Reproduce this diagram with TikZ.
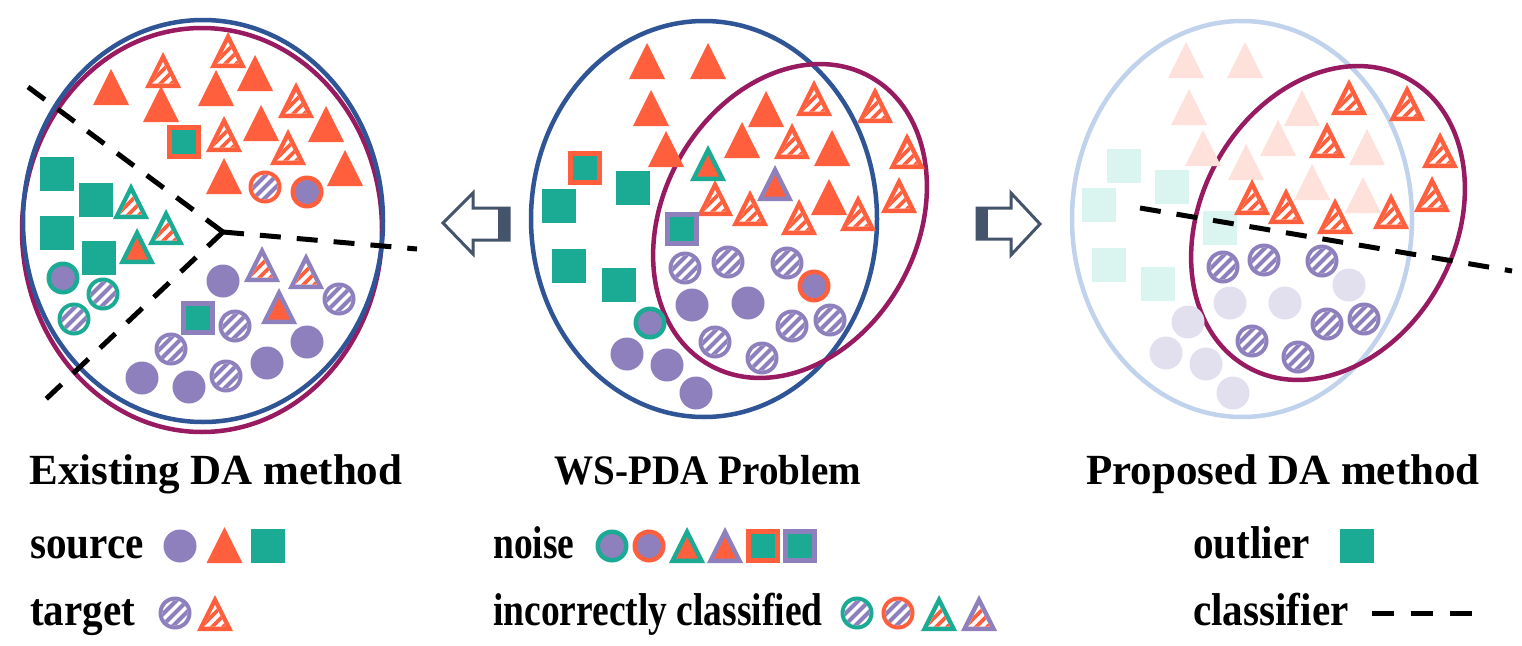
\documentclass[tikz,border=0pt]{standalone}
\usepackage{fontspec}
\setmainfont{Liberation Serif}
\definecolor{cor}{HTML}{FF5F3C}
\definecolor{cpu}{HTML}{8E80BD}
\definecolor{cte}{HTML}{1BAA93}
\definecolor{cbl}{HTML}{2F5597}
\definecolor{cmr}{HTML}{981B62}
\definecolor{car}{HTML}{44546A}
\definecolor{clb}{HTML}{C0D2EC}
\definecolor{for}{HTML}{FFE1DB}
\definecolor{fte}{HTML}{DAF5F0}
\definecolor{fpu}{HTML}{E2E0EF}
% shapes
\newcommand\mkTri[3]{\begin{scope}[shift={(#1,#2)}]\fill[#3] (0,-18)--(18,18)--(-18,18)--cycle;\end{scope}}
\newcommand\mkOTri[4]{\begin{scope}[shift={(#1,#2)}]\fill[#3] (0,-18)--(18,18)--(-18,18)--cycle;\fill[#4] (0,-8)--(10.8,13.5)--(-10.8,13.5)--cycle;\end{scope}}
\newcommand\mkHTri[4]{\begin{scope}[shift={(#1,#2)}]\fill[#3] (0,-18)--(18,18)--(-18,18)--cycle;\fill[white] (0,-8)--(10.8,13.5)--(-10.8,13.5)--cycle;
  \clip (0,-8)--(10.8,13.5)--(-10.8,13.5)--cycle;\foreach \d in {-33,-22,...,33}{\draw[#4,line width=3.6pt] (\d-20,20)--(\d+20,-20);}\end{scope}}
\newcommand\mkCirc[3]{\fill[#3] (#1,#2) circle[radius=16.5pt];}
\newcommand\mkRCirc[4]{\fill[#3] (#1,#2) circle[radius=16.5pt];\fill[#4] (#1,#2) circle[radius=12pt];}
\newcommand\mkHCirc[4]{\begin{scope}[shift={(#1,#2)}]\fill[#3] (0,0) circle[radius=16.5pt];\fill[white] (0,0) circle[radius=12.5pt];
  \clip (0,0) circle[radius=12.5pt];\foreach \d in {-33,-22,...,33}{\draw[#4,line width=4pt] (\d-20,20)--(\d+20,-20);}\end{scope}}
\newcommand\mkSq[3]{\fill[#3] (#1-17,#2-17) rectangle (#1+17,#2+17);}
\newcommand\mkOSq[4]{\fill[#3] (#1-17,#2-17) rectangle (#1+17,#2+17);\fill[#4] (#1-12,#2-12) rectangle (#1+12,#2+12);}
\tikzset{
  ttl/.style={font=\bfseries\fontsize{43}{50}\selectfont, inner sep=0pt, anchor=base},
  ttlm/.style={font=\bfseries\fontsize{42}{48}\selectfont, inner sep=0pt, anchor=base, xscale=0.93},
  leg/.style={font=\bfseries\fontsize{46}{52}\selectfont, inner sep=0pt, anchor=base west, xscale=0.895},
  legm/.style={font=\bfseries\fontsize{46}{52}\selectfont, inner sep=0pt, anchor=base west, xscale=0.815},
  clsf/.style={black, line width=5pt, dash pattern=on 21pt off 16pt},
  ring/.style={line width=4.5pt},
  arrowbox/.style={car, line width=3pt, fill=white, line join=miter},
}
\begin{document}
\begin{tikzpicture}[x=1pt,y=-1pt]
\useasboundingbox (0,0) rectangle (1522,645);
\fill[white] (0,0) rectangle (1522,645);

% ================= LEFT PANEL =================
\draw[ring, cmr] (202,230) ellipse [x radius=180pt, y radius=202pt];
\draw[ring, cbl] (203,221) ellipse [x radius=180pt, y radius=201pt];
\foreach \x/\y in {111/87,161/104,216/88,255/73,261/123,326/124,224/176,345/168}{\mkTri{\x}{\y}{cor}}
\foreach \x/\y in {163/70,228/50,296/100,224/134,288/147}{\mkHTri{\x}{\y}{cor}{cor}}
\mkOSq{184}{142}{cor}{cte}
\mkHCirc{265}{187}{cor}{cpu}
\mkRCirc{307}{192}{cor}{cpu}
\foreach \x/\y in {57/174,96/200,57/233,99/258}{\mkSq{\x}{\y}{cte}}
\foreach \x/\y in {131/201,166/227}{\mkHTri{\x}{\y}{cte}{cor}}
\mkOTri{137}{246}{cte}{cor}
\mkRCirc{63}{278}{cte}{cpu}
\foreach \x/\y in {103/294,74/319}{\mkHCirc{\x}{\y}{cte}{cpu}}
\foreach \x/\y in {223/281,307/342,267/363,189/387,142/378}{\mkCirc{\x}{\y}{cpu}}
\foreach \x/\y in {339/299,235/326,171/349,226/376}{\mkHCirc{\x}{\y}{cpu}{cpu}}
\foreach \x/\y in {262/264,306/271}{\mkHTri{\x}{\y}{cpu}{cor}}
\mkOTri{279}{306}{cpu}{cor}
\mkOSq{198}{318}{cpu}{cte}
\coordinate (jc) at (223,232);
\coordinate (e1) at (28,87);
\coordinate (e2) at (417,249);
\coordinate (e3) at (45,400);
\draw[clsf] (jc) -- (e1);
\draw[clsf] (jc) -- (e2);
\draw[clsf] (jc) -- (e3);

% ================= MIDDLE PANEL =================
\draw[ring, cbl] (704,219) ellipse [x radius=173pt, y radius=198pt];
\draw[ring, cmr, rotate around={-29:(790,221)}] (790,221) ellipse [x radius=127pt, y radius=165pt];
\foreach \x/\y in {647/61,708/61,651/108,666/149,766/109,742/140,832/148,829/197}{\mkTri{\x}{\y}{cor}}
\foreach \x/\y in {814/98,875/105,792/141,907/151,715/198,750/208,799/217,858/213,899/195}{\mkHTri{\x}{\y}{cor}{cor}}
\mkOTri{708}{163}{cte}{cor}
\mkOTri{775}{183}{cpu}{cor}
\mkOSq{585}{168}{cor}{cte}
\mkOSq{682}{229}{cpu}{cte}
\foreach \x/\y in {633/188,559/206,569/266,619/285}{\mkSq{\x}{\y}{cte}}
\foreach \x/\y in {685/268,728/262,787/263,715/342,762/358,792/326,830/320}{\mkHCirc{\x}{\y}{cpu}{cpu}}
\mkRCirc{814}{286}{cor}{cpu}
\mkRCirc{650}{323}{cte}{cpu}
\foreach \x/\y in {692/305,748/303,627/354,667/365,696/393}{\mkCirc{\x}{\y}{cpu}}

% arrows
\draw[arrowbox] (443,223) -- (473,193) -- (473,208) -- (509,208) -- (509,240) -- (473,240) -- (473,254) -- cycle;
\fill[car] (498,208) rectangle (509,240);
\draw[arrowbox] (977,208) -- (1011,208) -- (1011,193) -- (1040,224) -- (1011,255) -- (1011,239) -- (977,239) -- cycle;
\fill[car] (977,208) rectangle (988,239);

% ================= RIGHT PANEL =================
\draw[ring, clb] (1242,219) ellipse [x radius=170pt, y radius=198pt];
\draw[ring, cmr, rotate around={-29:(1328,223)}] (1328,223) ellipse [x radius=127pt, y radius=165pt];
\foreach \x/\y in {1186/60,1245/60,1189/107,1203/148,1302/108,1278/138,1367/147,1363/195,1246/162,1312/182}{\mkTri{\x}{\y}{for}}
\foreach \x/\y in {1124/166,1172/187,1099/205,1220/228,1109/265,1158/284}{\mkSq{\x}{\y}{fte}}
\foreach \x/\y in {1230/303,1285/303,1349/285,1188/322,1166/353,1206/364,1233/393}{\mkCirc{\x}{\y}{fpu}}
\foreach \x/\y in {1223/267,1264/260,1322/261,1252/341,1298/357,1327/324,1364/319}{\mkHCirc{\x}{\y}{cpu}{cpu}}
\foreach \x/\y in {1349/97,1407/103,1327/140,1440/150,1252/197,1286/206,1335/216,1391/211,1432/194}{\mkHTri{\x}{\y}{cor}{cor}}
\coordinate (r1) at (1140,208);
\coordinate (r2) at (1512,271);
\draw[clsf] (r1) -- (r2);

% ================= TITLES =================
\node[ttl] (t1) at (216,484) {Existing DA method};
\node[ttlm] (t2) at (708,484) {WS-PDA Problem};
\node[ttl] (t3) at (1283,484) {Proposed DA method};

% ================= LEGENDS =================
\node[leg] (ls) at (30,558) {source};
\mkCirc{180}{546}{cpu}
\mkTri{224.5}{545}{cor}
\mkSq{268}{546}{cte}
\node[leg] (lt) at (30,625) {target};
\mkHCirc{175}{613}{cpu}{cpu}
\mkHTri{215}{613}{cor}{cor}

\node[legm] (ln) at (493,558) {noise};
\mkRCirc{612}{546}{cte}{cpu}
\mkRCirc{649}{546}{cor}{cpu}
\mkOTri{687}{545}{cte}{cor}
\mkOTri{725}{545}{cpu}{cor}
\mkOSq{763}{546}{cor}{cte}
\mkOSq{800}{546}{cpu}{cte}
\node[legm] (li) at (493,625) {incorrectly classified};
\mkHCirc{857}{613}{cte}{cpu}
\mkHCirc{898}{613}{cor}{cpu}
\mkHTri{939}{613}{cte}{cor}
\mkHTri{979}{613}{cpu}{cor}

\node[leg] (lo) at (1193,558) {outlier};
\mkSq{1357}{546}{cte}
\node[leg] (lc) at (1193,625) {classifier};
\coordinate (d1) at (1372,613);
\coordinate (d2) at (1472,613);
\draw[black, line width=5pt, dash pattern=on 22pt off 17pt] (d1) -- (d2);
\end{tikzpicture}
\end{document}
